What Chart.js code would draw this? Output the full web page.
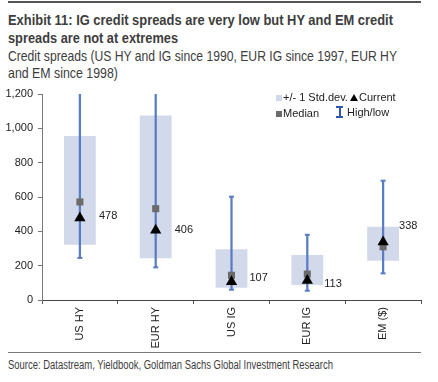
<!DOCTYPE html>
<html>
<head>
<meta charset="utf-8">
<script src="https://cdn.jsdelivr.net/npm/chart.js@4.4.1/dist/chart.umd.min.js"></script>
<style>
  html, body { margin: 0; padding: 0; background: #fff; }
  #wrap { position: relative; width: 438px; height: 382px; overflow: hidden; font-family: "Liberation Sans", Arial, sans-serif; color: #3a3a3a; }
  .rule { position: absolute; left: 8px; width: 413px; }
  .t { position: absolute; left: 8px; white-space: nowrap; transform-origin: 0 50%; }
  .title { font-weight: bold; font-size: 15px; line-height: 18px; color: #3d3d3d; }
  .sub { font-size: 15px; line-height: 17px; color: #3d3d3d; }
  .src { font-size: 12px; color: #3d3d3d; }
  #cv { position: absolute; left: 0; top: 80px; }
  .lg { position: absolute; font-family: "Liberation Sans", Arial, sans-serif; font-size: 11px; color: #222; white-space: nowrap; line-height: 12px; }
</style>
</head>
<body>
<div id="wrap">
  <div class="rule" style="top:1px;height:2px;background:#555;"></div>
  <div class="t title" data-w="385" style="top:11px;">Exhibit 11: IG credit spreads are very low but HY and EM credit</div>
  <div class="t title" data-w="170" style="top:29px;">spreads are not at extremes</div>
  <div class="t sub" data-w="389" style="top:47px;">Credit spreads (US HY and IG since 1990, EUR IG since 1997, EUR HY</div>
  <div class="t sub" data-w="110" style="top:64px;">and EM since 1998)</div>
  <canvas id="cv" width="438" height="270"></canvas>
  <div class="lg" style="left:276px;top:91px;"><span style="display:inline-block;width:6px;height:6px;background:#d2d9ea;margin-right:1px;"></span>+/- 1 Std.dev.</div>
  <div class="lg" style="left:350px;top:91px;"><span style="display:inline-block;width:0;height:0;border-left:4px solid transparent;border-right:4px solid transparent;border-bottom:7px solid #000;margin-right:1px;"></span>Current</div>
  <div class="lg" style="left:276px;top:107px;"><span style="display:inline-block;width:6px;height:6px;background:#6b6b6b;margin-right:1px;"></span>Median</div>
  <div class="lg" style="left:336px;top:106px;"><span style="display:inline-block;position:relative;width:7px;height:12px;margin-right:4px;vertical-align:-2px;">
      <span style="position:absolute;left:0;top:0;width:7px;height:2px;background:#2f56b0;"></span>
      <span style="position:absolute;left:2.5px;top:0;width:2px;height:12px;background:#2f56b0;"></span>
      <span style="position:absolute;left:0;bottom:0;width:7px;height:2px;background:#2f56b0;"></span>
    </span>High/low</div>
  <div class="rule" style="top:352px;height:1px;background:#777;"></div>
  <div class="t src" data-w="325" style="top:358px;">Source: Datastream, Yieldbook, Goldman Sachs Global Investment Research</div>
</div>
<script>
const categories = ['US HY', 'EUR HY', 'US IG', 'EUR IG', 'EM ($)'];
const stdLow   = [322, 243, 72, 87, 229];
const stdHigh  = [955, 1075, 295, 262, 427];
const medians  = [571, 532, 144, 151, 310];
const current  = [478, 406, 107, 113, 338];
const lows     = [245, 190, 60, 54, 155];
const highs    = [2000, 2500, 602, 380, 695];
const yTicks   = [0, 200, 400, 600, 800, 1000, 1200];

// condense header/footer text to the reference's narrow typeface widths
document.querySelectorAll('.t[data-w]').forEach(el => {
  const w = el.getBoundingClientRect().width;
  const target = parseFloat(el.dataset.w);
  if (w > 0) el.style.transform = 'scaleX(' + (target / w) + ')';
});

const BLUE = '#5a7cc0';
const labelDy = [-2, 0, -4, 3, -16];
const labelDx = [19, 19, 18, 17, 16];

const currentLabels = {
  id: 'currentLabels',
  afterDatasetsDraw(chart) {
    const ctx = chart.ctx;
    const xs = chart.scales.x, ys = chart.scales.y;
    ctx.save();
    ctx.font = '11px "Liberation Sans", Arial, sans-serif';
    ctx.fillStyle = '#222';
    ctx.textBaseline = 'middle';
    ctx.textAlign = 'left';
    current.forEach((v, i) => {
      ctx.fillText(String(v), xs.getPixelForValue(i) + labelDx[i], ys.getPixelForValue(v) + labelDy[i]);
    });
    ctx.restore();
  }
};

new Chart(document.getElementById('cv'), {
  data: {
    labels: categories,
    datasets: [
      { type: 'line', label: 'Current', data: current, showLine: false, order: 1,
        pointStyle: 'triangle', pointRadius: 6.5, pointBackgroundColor: '#000', pointBorderColor: '#000', pointBorderWidth: 0 },
      { type: 'line', label: 'Median', data: medians, showLine: false, order: 2,
        pointStyle: 'rect', pointRadius: 5, pointBackgroundColor: '#6b6b6b', pointBorderColor: '#6b6b6b', pointBorderWidth: 0 },
      { type: 'line', label: 'High', data: highs, showLine: false, order: 3,
        pointStyle: 'line', pointRadius: 2.5, pointBorderColor: BLUE, pointBorderWidth: 2 },
      { type: 'line', label: 'Low', data: lows, showLine: false, order: 3,
        pointStyle: 'line', pointRadius: 2.5, pointBorderColor: BLUE, pointBorderWidth: 2 },
      { type: 'bar', label: 'High/low', data: categories.map((c, i) => [lows[i], highs[i]]), order: 4,
        grouped: false, barThickness: 1.6, backgroundColor: BLUE, borderWidth: 0 },
      { type: 'bar', label: '+/- 1 Std.dev.', data: categories.map((c, i) => [stdLow[i], stdHigh[i]]), order: 5,
        grouped: false, categoryPercentage: 1, barPercentage: 0.42, backgroundColor: '#d2d9ea', borderWidth: 0 }
    ]
  },
  options: {
    responsive: false,
    animation: false,
    events: [],
    layout: { padding: { top: 14, right: 17, left: 0, bottom: 0 } },
    plugins: { legend: { display: false }, tooltip: { enabled: false } },
    scales: {
      x: {
        type: 'category',
        offset: true,
        grid: { display: true, offset: true, drawOnChartArea: false, drawTicks: true, tickLength: 4, color: '#555' },
        border: { display: true, color: '#444', width: 1 },
        ticks: { minRotation: 90, maxRotation: 90, padding: 3, color: '#222',
                 font: { family: '"Liberation Sans", Arial, sans-serif', size: 11 } },
        afterFit(s) { s.height = 50; }
      },
      y: {
        min: yTicks[0], max: yTicks[yTicks.length - 1],
        afterBuildTicks(s) { s.ticks = yTicks.map(v => ({ value: v })); },
        grid: { display: true, drawOnChartArea: false, drawTicks: true, tickLength: 4, color: '#777' },
        border: { display: true, color: '#777', width: 1 },
        ticks: { padding: 5, color: '#222', font: { family: '"Liberation Sans", Arial, sans-serif', size: 11 },
                 callback: v => v.toLocaleString('en-US') },
        afterFit(s) { s.width = 42; }
      }
    }
  },
  plugins: [currentLabels]
});
</script>
</body>
</html>
